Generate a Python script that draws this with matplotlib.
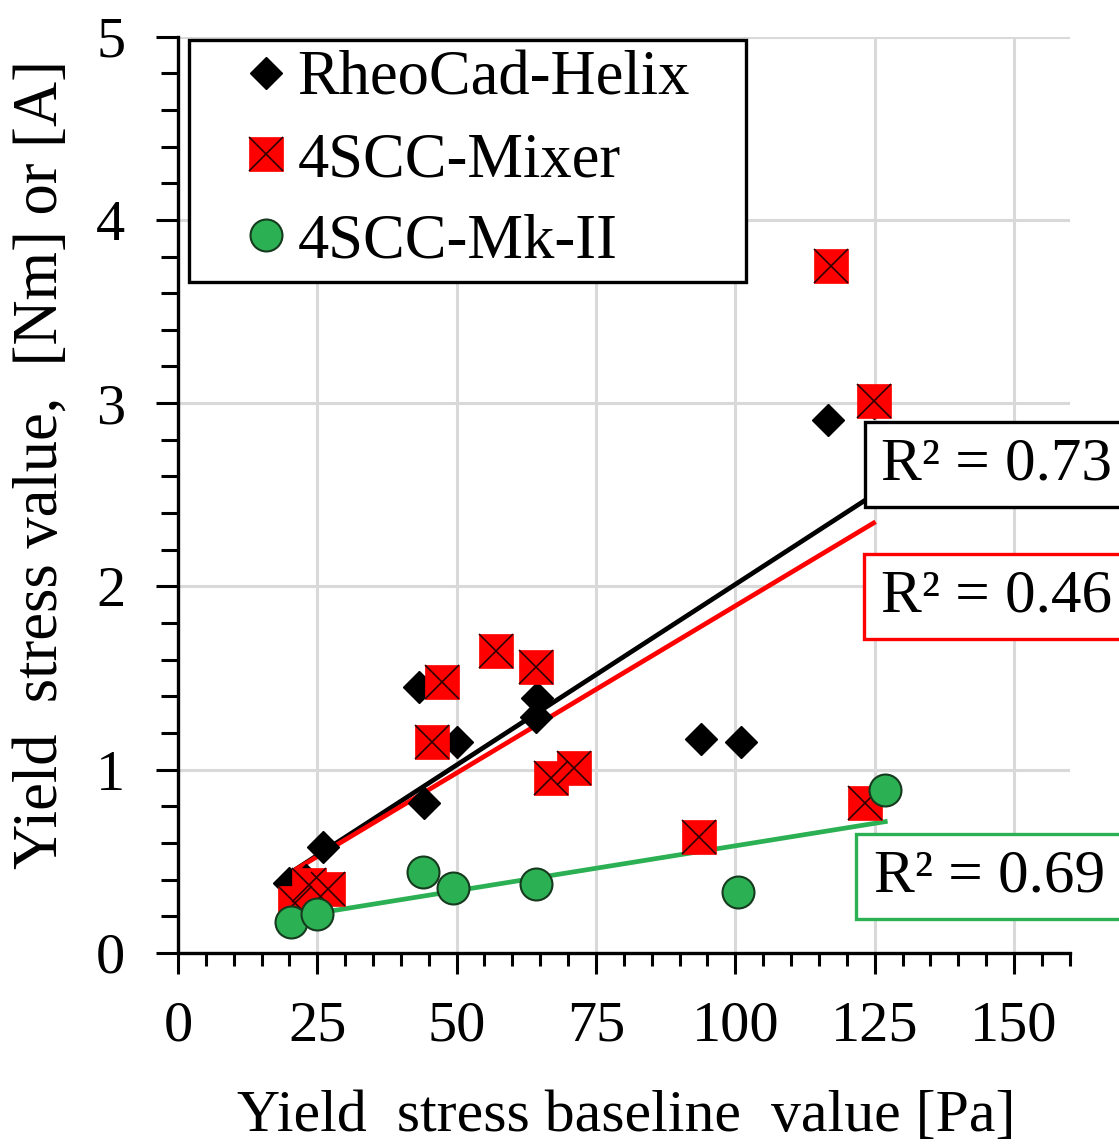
import numpy as np
import matplotlib
matplotlib.use("Agg")
import matplotlib.pyplot as plt
from matplotlib.lines import Line2D
from matplotlib.patches import Rectangle
from matplotlib.legend_handler import HandlerLine2D, HandlerTuple
from matplotlib.ticker import MultipleLocator

plt.rcParams['font.family'] = ['Liberation Serif', 'DejaVu Serif']

# values
helix_x = [20.0, 23.0, 26.0, 43.3, 44.2, 50.1, 64.3, 64.4, 93.8, 101.1, 116.7, 124.8]
helix_y = [0.38, 0.40, 0.58, 1.45, 0.82, 1.15, 1.29, 1.39, 1.17, 1.15, 2.91, 3.00]

mixer_x = [21.0, 23.5, 27.0, 45.5, 47.4, 57.1, 64.3, 67.0, 71.1, 93.4, 117.1, 123.3, 124.8]
mixer_y = [0.27, 0.37, 0.35, 1.15, 1.48, 1.65, 1.56, 0.955, 1.01, 0.63, 3.75, 0.82, 3.01]

mk2_x = [20.2, 25.0, 44.0, 49.4, 64.3, 100.4, 126.9]
mk2_y = [0.17, 0.21, 0.44, 0.355, 0.375, 0.33, 0.89]

series_names = ['RheoCad-Helix', '4SCC-Mixer', '4SCC-Mk-II']
r2_labels = ['R\u00b2 = 0.73', 'R\u00b2 = 0.46', 'R\u00b2 = 0.69']

RED = '#ff0000'
GREEN = '#2bb054'
FS = 42

fig = plt.figure(figsize=(11.19, 11.44), dpi=100)
ax = fig.add_axes([0.159, 0.167, 0.797, 0.801])

# trend lines first, markers on top
for xs, ys, col in [(helix_x, helix_y, 'black'), (mixer_x, mixer_y, RED), (mk2_x, mk2_y, GREEN)]:
    fit = np.polyfit(xs, ys, 1)
    xx = np.array([min(xs), max(xs)])
    ax.plot(xx, np.polyval(fit, xx), color=col, lw=3.4, zorder=3)

ax.plot(helix_x, helix_y, ls='none', marker='D', ms=16, mfc='black', mec='black', zorder=4)
ax.plot(mixer_x, mixer_y, ls='none', marker='s', ms=25, mfc=RED, mec=RED, mew=0.5, zorder=5)
ax.plot(mixer_x, mixer_y, ls='none', marker='x', ms=24, mec='#300000', mew=1.2, zorder=5)
ax.plot(mk2_x, mk2_y, ls='none', marker='o', ms=23, mfc=GREEN, mec='#163a1e', mew=1.5, zorder=6)

# R^2 boxes (they run off the right edge like in the original)
box_rects = [(123.3, 2.434, 0.464), (123.1, 1.714, 0.464), (121.7, 0.186, 0.464)]
text_x = [126.1, 126.1, 124.8]
for (bx, by, bh), tx, txt, col in zip(box_rects, text_x, r2_labels, ['black', RED, GREEN]):
    ax.add_patch(Rectangle((bx, by), 60, bh, fc='white', ec=col, lw=2.4, zorder=8, clip_on=False))
    ax.text(tx, by + bh / 2, txt, fontsize=44, ha='left', va='center', zorder=9, clip_on=False)

ax.set_xlim(0, 160)
ax.set_ylim(0, 5)
ax.set_xticks([0, 25, 50, 75, 100, 125, 150])
ax.xaxis.set_minor_locator(MultipleLocator(5))
ax.yaxis.set_major_locator(MultipleLocator(1))
ax.yaxis.set_minor_locator(MultipleLocator(0.2))

ax.grid(True, which='major', color='#d9d9d9', lw=2.2, zorder=0)
ax.set_axisbelow(True)
for s in ['top', 'right']:
    ax.spines[s].set_visible(False)
for s in ['left', 'bottom']:
    ax.spines[s].set_linewidth(2.4)

ax.tick_params(axis='x', which='major', length=15, width=2.2, pad=19, labelsize=FS)
ax.tick_params(axis='x', which='minor', length=9, width=2.2)
ax.tick_params(axis='y', which='major', length=16, width=2.2, pad=22, labelsize=FS)
ax.tick_params(axis='y', which='minor', length=12, width=2.2)

ax.set_xlabel('Yield  stress baseline  value [Pa]', fontsize=43)
ax.set_ylabel('Yield  stress value,  [Nm] or [A]', fontsize=45)
ax.xaxis.set_label_coords(0.503, -0.15)
ax.yaxis.set_label_coords(-0.12, 0.533)

# legend
h_helix = Line2D([], [], ls='none', marker='D', ms=16, mfc='black', mec='black')
h_sq = Line2D([], [], ls='none', marker='s', ms=25, mfc=RED, mec=RED, mew=0.5)
h_x = Line2D([], [], ls='none', marker='x', ms=24, mec='#300000', mew=1.2)
h_mk2 = Line2D([], [], ls='none', marker='o', ms=23, mfc=GREEN, mec='#163a1e', mew=1.5)
leg = ax.legend([h_helix, (h_sq, h_x), h_mk2], series_names, fontsize=45,
                loc='upper left', bbox_to_anchor=(0.0123, 0.728, 0.625, 0.2687),
                mode='expand', borderaxespad=0,
                fancybox=False, edgecolor='black', framealpha=1, borderpad=0.18,
                handlelength=1.46, handletextpad=0.1, labelspacing=0.37,
                handler_map={Line2D: HandlerLine2D(xpad=0.64),
                             tuple: HandlerTuple(ndivide=1, xpad=0.64)})
leg.get_frame().set_linewidth(2.4)
leg.set_zorder(10)

fig.savefig('out.png', dpi=100)
